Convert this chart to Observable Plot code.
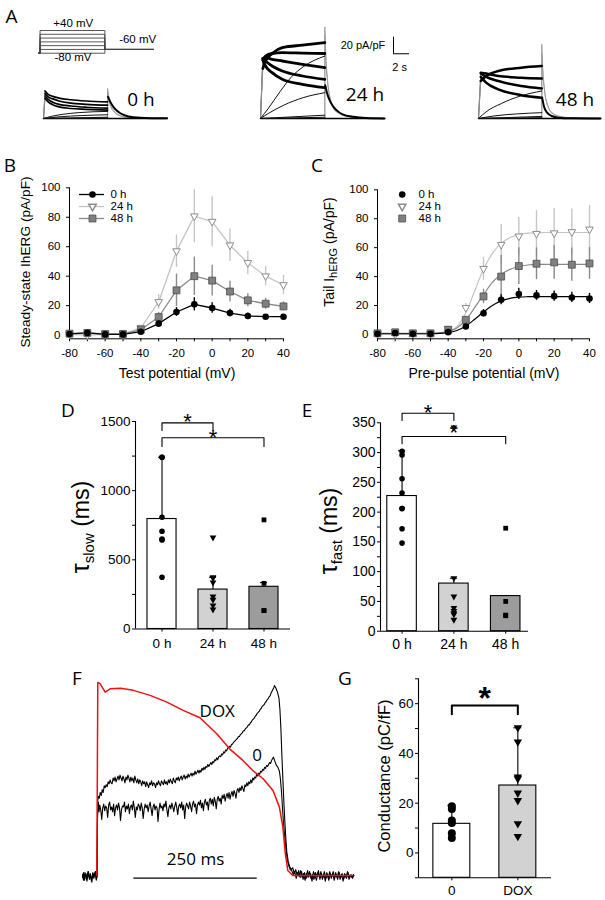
<!DOCTYPE html>
<html><head><meta charset="utf-8">
<script src="https://cdn.jsdelivr.net/npm/d3@7"></script>
<script src="https://cdn.jsdelivr.net/npm/@observablehq/plot@0.6"></script>
<style>
body{margin:0;background:#fff;}
#fig{position:relative;width:605px;height:900px;overflow:hidden;font-family:"Liberation Sans",Arial,sans-serif;color:#000;background:#fff;}
.lbl{position:absolute;white-space:nowrap;transform:translate(-50%,-50%);line-height:1;}
.rot{position:absolute;white-space:nowrap;transform:translate(-50%,-50%) rotate(-90deg);line-height:1;}
.letter{font-family:"Open Sans",sans-serif;font-size:19px;}
.cal{font-family:"Open Sans",sans-serif;}
</style></head><body><div id="fig"></div>
<script>
// ---------------- DATA ----------------
// Panel A: voltage protocol (mV) and time points (s)
const protocolSteps = [-80, -60, -40, -20, 0, 20, 40];
const protocolHold = -80, protocolTail = -60;
const protocolTimes = [-0.2, 0, 8.4, 14.7];
// Panel A current traces [t (s), I (pA/pF)]
const tr0hThick = [
  [[0.2,33],[0.6,29],[1.2,26.5],[2,24.5],[3.5,22.5],[5.5,21],[8.3,20]],
  [[0.2,30],[0.6,26],[1.2,23.5],[2,21],[3.5,18.5],[5.5,17],[8.3,16]],
  [[0.2,27],[0.6,23],[1.2,19.5],[2,17],[3.5,15],[5.5,13.5],[8.3,12.5]],
  [[0.2,24],[0.6,20],[1.2,16.5],[2,14],[3.5,12],[5.5,11],[8.3,10]]
];
const tr0hThin = [
  [[0,0],[1,2.5],[2.5,5],[4.5,7],[8.3,8.5]],
  [[0,0],[2,2],[5,3.5],[8.3,4.5]],
  [[0,0],[8.3,1.5]],
  [[0,0],[8.3,0.5]]
];
const tail0h = [
  [[8.3,0],[8.3,36],[8.5,24],[8.8,14],[9.3,7],[10,3],[11,1],[12.5,0.3],[16,0]],
  [[8.3,0],[8.3,31],[8.5,19],[8.9,10],[9.5,4.5],[10.5,1.5],[12,0.4],[16,0]]
];
const tail0hBlack = [[8.35,26],[8.7,19],[9.2,12],[10,6],[11,2.5],[12.5,1],[16,0.2]];

const tr24hThick = [
  [[0.3,60],[0.65,69],[1.5,78],[2.8,85],[5.4,88],[8.3,91]],
  [[0.3,70],[0.65,75],[1.5,78],[2.8,79],[5.4,78.5],[8.3,78]],
  [[0.3,72],[0.65,73],[1.5,71],[2.8,69],[5.4,65],[8.3,61]],
  [[0.3,72],[0.65,69],[1.5,63],[2.8,57],[5.4,51],[8.3,47]],
  [[0.3,70],[0.65,63],[1.5,55],[2.8,47],[5.4,41],[8.3,37]]
];
const tr24hThin = [
  [[0,0],[1,12],[2.5,32],[4,50],[5.5,62],[8.3,75]],
  [[0,0],[1,6],[3,16],[5.5,25],[8.3,31]],
  [[0,0],[8.3,4]],
  [[0,0],[8.3,1.5]]
];
const tail24h = [
  [[8.3,0],[8.3,110],[8.45,70],[8.7,40],[9,22],[9.5,10],[10.5,4],[12,1],[16,0]],
  [[8.3,0],[8.3,100],[8.5,58],[8.8,32],[9.2,17],[9.8,8],[11,3],[13,0.8],[16,0]]
];
const tail24hBlack = [[8.35,40],[8.6,30],[9.07,19],[9.8,10],[10.6,5],[12,2],[13.6,0.5],[16,0]];

const tr48hThick = [
  [[0.3,45],[1,51],[2.6,57],[5.6,61],[8.3,63]],
  [[0.3,55],[1,54],[2.6,51],[5.6,49],[8.3,48]],
  [[0.3,54],[1,50],[2.6,45],[5.6,39],[8.3,36]],
  [[0.3,50],[1,43],[2.6,35],[5.6,28],[8.3,25]]
];
const tr48hThin = [
  [[0,0],[1,8],[3,18],[5.5,27],[8.3,33]],
  [[0,0],[2,3],[5,5.5],[8.3,7]],
  [[0,0],[8.3,2.5]],
  [[0,0],[8.3,1]]
];
const tail48h = [
  [[8.3,0],[8.3,89],[8.45,55],[8.7,30],[9,16],[9.5,7],[10.5,2.5],[12,0.8],[16,0]],
  [[8.3,0],[8.3,78],[8.5,45],[8.8,24],[9.3,10],[10,4],[11.5,1],[16,0]]
];
const tail48hBlack = [[8.35,25],[8.6,14],[9,7],[9.6,3],[10.5,1],[12,0.3],[16,0]];
const traceBaseline = [[0,0],[16,0]];

// Panels B & C: potentials (mV)
const potentials = [-80,-70,-60,-50,-40,-30,-20,-10,0,10,20,30,40];
const seriesNames = ["0 h", "24 h", "48 h"];
// B steady-state IhERG (pA/pF)
const ss0h  = [0.8,1.5,0.5,0.5,2.3,7.8,15.7,20.9,18.4,15,13,12.5,12.5];
const ss0hE = [0,0,0,0,0,1.5,3,4.5,3.5,2.5,2,1.5,1.5];
const ss24h  = [0.5,0,0.5,0.5,5,22.5,57,80.7,77,61,49,40,34];
const ss24hE = [0,0,0,0,1,5,11,18,17,11,8,6.7,6.6];
const ss48h  = [1,1.5,0.8,0.8,3.7,12.3,30.4,40,37,29.6,23.6,21.3,19.5];
const ss48hE = [0,0,0,0,0.8,3,11,13,10.4,7,4.4,3.7,3];
// C tail IhERG (pA/pF)
const tl0h  = [0.5,1,0.5,0.5,1.6,5.5,14.7,24,28,27,26.5,25.6,24.9];
const tl0hE = [0,0,0,0,0,1.5,2.5,3.5,3.9,3.4,3.5,3.5,3.5];
const tl24h  = [0.5,0,0.5,0.5,4,18.4,45.4,62,67.8,69.6,70,70.8,72.6];
const tl24hE = [0,0,0,0,1,3,8,14,13,16,17,16,16.5];
const tl48h  = [0.8,1.5,0.8,0.8,3.2,10.1,26.3,40,47.3,48.9,49.8,48.2,49.1];
const tl48hE = [0,0,0,0,0.8,2,5,14.6,12.7,11,11.7,11.5,11];
// C fitted curves
const fitX = [-80,-75,-70,-65,-60,-55,-50,-45,-40,-35,-30,-25,-20,-15,-10,-5,0,5,10,15,20,25,30,35,40];
const fit0h  = [0.5,0.5,0.5,0.5,0.5,0.5,0.5,0.7,1.3,2.7,5.8,10.5,15.5,20,23.2,25,25.8,26.1,26.2,26.2,26.2,26.2,26.2,26.2,26.2];
const fit24h = [0.3,0.3,0.3,0.3,0.3,0.4,0.5,0.9,2,5.5,15,30,45,56,63,67,69,70,70.3,70.5,70.5,70.5,70.5,70.5,70.5];
const fit48h = [0.8,0.8,0.8,0.8,0.8,0.8,0.9,1.2,2.2,4.5,10,18.5,27.5,36,41.5,45,47,48,48.4,48.5,48.5,48.5,48.5,48.5,48.5];

// D tau slow (ms)
const groupsDE = ["0 h", "24 h", "48 h"];
const dMean = [795, 285, 305];
const dSD = [447, 89, 30];
const dPts0h = [1242, 1242, 808, 707, 651, 644, 374];
const dPts24h = [660, 374, 368, 335, 234, 210, 170, 140];
const dPts48h = [789, 330, 133, 133];
const dBrackets = [{from:0, to:1, top:1490, foot:1435, star:1538}, {from:0, to:2, top:1382, foot:1319, star:1423}];
// E tau fast (ms)
const eMean = [227, 80, 59];
const eSD = [76, 9, 0];
const ePts0h = [302, 296, 256, 232, 206, 206, 172, 148];
const ePts24h = [342, 89, 58, 39, 34, 30, 28, 19];
const ePts48h = [173, 50, 26, 27];
const eBrackets = [{from:0, to:1, top:366, foot:354, star:377}, {from:0, to:2, top:327, foot:315, star:343}];
// G conductance (pC/fF)
const groupsG = ["0", "DOX"];
const gMean = [11.7, 27.1];
const gSD = [7.5, 23.2];
const gPts0 = [18.8, 17.7, 13, 12, 7.9, 6];
const gPtsDOX = [50.3, 44.6, 30.5, 29.8, 24, 21, 11.7, 6.6];
const gBracket = [{from:0, to:1, top:59.3, foot:55.7, star:65.4}];

// F action potential (red) and current traces (black) [t (ms), normalized]
const apRed = [[29,0],[31,100],[36,99.3],[46,95],[56,96.7],[77,97],[103,95.9],[137,93.3],[171,89.8],[204,85.5],[238,81.7],[272,73.4],[298,65.6],[325,59.6],[345,54.4],[366,50.1],[386,44],[399,35.4],[406,25],[411,11.2],[416,2.6],[426,0],[547,0]];
const curDOX = [[0,0.5],[2,-2.5],[5,1.5],[7,-0.5],[9,-3],[12,2],[14,-1],[16,0.5],[19,-3.5],[21,1],[23,-1.5],[26,2],[28,-2.5],[29.5,0],[30.5,38],[32,41],[34,40],[36,43],[38,41.5],[40,44.5],[42,43],[44,46.5],[46,45.5],[48,47],[50,46],[52,48.5],[54,47.5],[56,49.5],[58,48],[60,47.5],[62,50.5],[64,49],[66,51],[68,48.5],[70,50],[72,51.5],[74,49.5],[76,52],[78,50.5],[80,49],[82,51.5],[84,50],[86,48],[88,51],[90,49.5],[92,52],[94,50.5],[96,48.5],[98,51],[100,49],[102,50.5],[104,48],[106,51.5],[108,49.5],[110,48],[112,50],[114,47.5],[116,49.5],[118,48.5],[120,46.5],[122,49],[124,47.5],[126,48.5],[128,46],[130,48.5],[132,47],[134,45.5],[136,48],[138,47],[140,49],[142,46.5],[144,48],[146,47.5],[148,45.5],[150,48],[152,47],[154,49],[156,47.5],[158,46.5],[160,49],[162,48],[164,47],[166,49.5],[168,47.5],[170,48.5],[172,47],[174,49.5],[176,48],[178,50],[180,48.5],[182,47.5],[184,50.5],[186,49],[188,48],[190,50.5],[192,49.5],[194,51],[196,49],[198,50.5],[200,51.5],[202,49.5],[204,51],[206,52],[208,50],[210,51.5],[212,50.5],[214,52.5],[216,51],[218,52],[220,53],[222,51.5],[224,53],[226,52],[228,54],[230,52.5],[232,53.5],[234,54.5],[236,53],[238,54.5],[240,53.5],[242,55.5],[244,54.5],[246,56],[248,55],[250,56.5],[252,56],[254,57.5],[256,56.5],[258,57.5],[260,58.5],[262,57.5],[264,59],[266,58.5],[268,60],[270,59.5],[272,61],[274,60],[276,61.5],[278,62],[280,61.5],[282,63],[284,62.5],[286,64],[288,63.5],[290,65],[292,64.5],[294,66],[296,66],[298,67],[300,66.5],[302,68],[304,68],[306,69],[308,69.5],[310,70],[312,70.5],[314,71],[316,72],[318,72],[320,73],[322,73.5],[324,74],[326,75],[328,75],[330,76],[332,76.5],[334,77],[336,78],[338,78],[340,79],[342,79.5],[344,80.5],[346,81],[348,81.5],[350,82.5],[352,83],[354,84],[356,84.5],[358,85],[360,86],[362,86.5],[364,87.5],[366,88],[368,88.5],[370,89.5],[372,90],[374,91],[376,91.5],[378,92.5],[380,93],[382,94.5],[384,95.5],[386,96.5],[388,97.5],[389,98.4],[392,97],[395,95],[398,92],[400,86],[402,76],[404,62],[406,50],[408,38],[410,28],[412,19],[414,12],[417,7],[420,4.5],[423,3],[426,4],[429,1],[432,3],[435,0],[438,2.5],[441,-1],[444,2],[447,-2],[450,1.5],[453,-1.5],[456,2.5],[459,-0.5],[462,1],[465,-3],[468,2],[471,0],[474,-2.5],[477,1.5],[480,-1],[483,2],[486,-2],[489,0.5],[492,-3],[495,1.5],[498,-1],[501,2],[504,-1.5],[507,1],[510,-2.5],[513,1.5],[516,-1],[519,2],[522,-2],[525,0.5],[528,-3],[531,1],[534,-1],[537,2],[540,-2],[543,0],[546,-1],[549,0.5]];
const cur0 = [[0,-1],[2,1.5],[4,-2.5],[7,1],[9,-1.5],[11,2],[14,-2],[16,1],[18,-3],[21,1.5],[23,-0.5],[26,2],[28,-2],[29.5,-0.5],[30.5,30],[32,38],[33.5,33],[35,36.5],[37,34],[39,29],[41,35],[43,37],[45,33.5],[47,36],[49,35],[51,30],[53,36.5],[55,38],[57,34],[59,35.5],[61,33],[63,37],[65,31],[67,35],[69,36.5],[71,34],[73,37.5],[75,35],[77,28.5],[79,34],[81,36],[83,35.5],[85,38],[87,33],[89,36],[91,34.5],[93,37],[95,32],[97,35.5],[99,36.5],[101,34],[103,38.5],[105,35],[107,30],[109,35.5],[111,34],[113,37],[115,36],[117,33.5],[119,37.5],[121,35],[123,29.5],[125,34.5],[127,37],[129,35],[131,36.5],[133,33],[135,36],[137,38],[139,34.5],[141,31],[143,35.5],[145,37],[147,34],[149,36],[151,35],[153,28],[155,34],[157,37.5],[159,35],[161,36],[163,33.5],[165,37],[167,35.5],[169,38.5],[171,34],[173,30.5],[175,35],[177,36.5],[179,34.5],[181,37.5],[183,35.5],[185,33],[187,36],[189,38],[191,35],[193,31.5],[195,36],[197,37],[199,35],[201,38],[203,34],[205,36.5],[207,29.5],[209,35.5],[211,37.5],[213,36],[215,34.5],[217,38],[219,36],[221,33],[223,37],[225,38.5],[227,35.5],[229,37],[231,32],[233,36.5],[235,38],[237,36.5],[239,39],[241,35],[243,37.5],[245,33.5],[247,38],[249,39.5],[251,36.5],[253,38],[255,34],[257,39],[259,40],[261,37],[263,39.5],[265,36],[267,40.5],[269,38.5],[271,34.5],[273,39.5],[275,41],[277,38.5],[279,40],[281,37],[283,41.5],[285,40],[287,42],[289,38.5],[291,41],[293,42.5],[295,40],[297,43],[299,39.5],[301,42],[303,43.5],[305,41],[307,44],[309,42.5],[311,40],[313,44],[315,45],[317,43],[319,45.5],[321,44],[323,46.5],[325,45],[327,43.5],[329,47],[331,46],[333,48],[335,46.5],[337,48.5],[339,47.5],[341,49.5],[343,48],[345,50.5],[347,49.5],[349,51],[351,50.5],[353,52.5],[355,51.5],[357,53],[359,52.5],[361,54],[363,53.5],[365,55],[367,54.5],[369,56],[371,55.5],[373,57],[375,56.5],[377,57.5],[379,58.5],[381,58],[383,59.5],[385,60.5],[387,61.3],[390,59],[393,57],[396,56],[399,54],[401,50],[403,44],[405,36],[407,28],[409,22],[411,17],[413,12],[415,8],[418,5],[421,3],[424,2.5],[427,0.5],[430,2],[433,-1.5],[436,1.5],[439,-0.5],[442,2.5],[445,-1],[448,1],[451,-2.5],[454,1],[457,-1],[460,2],[463,-1.5],[466,0.5],[469,-2],[472,1.5],[475,-0.5],[478,2.5],[481,-2],[484,1],[487,-1],[490,2],[493,-1.5],[496,0.5],[499,-2.5],[502,1],[505,-0.5],[508,2],[511,-1],[514,0.5],[517,-2],[520,1.5],[523,-1],[526,1],[529,-2],[532,0.5],[535,-1.5],[538,1.5],[541,-1],[544,0.5],[547,-1.5],[550,0]];
const fScaleBar = [{t0:104, len:250, v:-1.4, label:"250 ms", lt:229, lv:8.1}];
const fLabels = [{t:273, v:85.1, text:"DOX"}, {t:354, v:62.2, text:"0"}];

// ---------------- HELPERS ----------------
const fig = document.getElementById("fig");
const FONT = '"Liberation Sans", Arial, sans-serif';
function addPlot(left, top, opts) {
  const style = Object.assign({background:"transparent", overflow:"visible", fontFamily: FONT}, opts.style || {});
  const svg = Plot.plot(Object.assign({}, opts, {style}));
  const d = document.createElement("div");
  d.style.cssText = `position:absolute;left:${left}px;top:${top}px;width:${opts.width}px;height:${opts.height}px;`;
  d.appendChild(svg);
  fig.appendChild(d);
}
function label(html, x, y, cls, css) {
  const d = document.createElement("div");
  d.className = cls || "lbl";
  d.innerHTML = html;
  d.style.left = x + "px"; d.style.top = y + "px";
  if (css) d.style.cssText += css;
  fig.appendChild(d);
}
const triDown = {draw(ctx, size) {
  const r = Math.sqrt(size / Math.PI);
  ctx.moveTo(-r * 1.05, -r * 0.65); ctx.lineTo(r * 1.05, -r * 0.65); ctx.lineTo(0, r * 1.2); ctx.closePath();
}};
const rowsOf = (xs, ys, es) => xs.map((x, i) => ({x, y: ys[i], e: es ? es[i] : 0}));
const ptsOf = (arr, i) => arr.map(v => ({i, v}));

// ---------------- PANEL A ----------------
const protocolLines = protocolSteps.map(V => [
  [protocolTimes[0], protocolHold], [protocolTimes[1], protocolHold], [protocolTimes[1], V],
  [protocolTimes[2], V], [protocolTimes[2], protocolTail], [protocolTimes[3], protocolTail]]);
addPlot(38.3, 25, {
  width: 115, height: 30, margin: 0,
  x: {domain: [-0.2, 14.7], axis: null}, y: {domain: [-92, 66.4], axis: null},
  marks: protocolLines.map(l => Plot.line(l, {x: d => d[0], y: d => d[1], stroke: "#444", strokeWidth: 0.9}))
});

function traceFamily(left, width, thick, thin, tails, blackTail, thickW) {
  const lineOf = (pts, o) => Plot.line(pts, Object.assign({x: d => d[0], y: d => d[1], curve: "monotone-x"}, o));
  addPlot(left, 17.5, {
    width, height: 100, margin: 0,
    x: {domain: [0, 16], axis: null}, y: {domain: [0, 120], axis: null},
    marks: [
      ...tails.map(t => lineOf(t, {stroke: "#9a9a9a", strokeWidth: 0.9, curve: "linear"})),
      Plot.link(thick, {x1: d => 0, y1: d => 0, x2: d => d[0][0], y2: d => d[0][1], stroke: "#8a8a8a", strokeWidth: 0.9}),
      lineOf(traceBaseline, {stroke: "#000", strokeWidth: 1.6, curve: "linear"}),
      ...thin.map(t => lineOf(t, {stroke: "#111", strokeWidth: 1})),
      lineOf(blackTail, {stroke: "#000", strokeWidth: 2}),
      ...thick.map(t => lineOf(t, {stroke: "#000", strokeWidth: thickW}))
    ]
  });
}
traceFamily(43.2, 123.6, tr0hThick, tr0hThin, tail0h, tail0hBlack, 1.7);
traceFamily(260, 124, tr24hThick, tr24hThin, tail24h, tail24hBlack, 2.8);
traceFamily(478, 122, tr48hThick, tr48hThin, tail48h, tail48hBlack, 2.5);
// scale bar for A (20 pA/pF, 2 s)
addPlot(393, 35, {
  width: 16, height: 20, margin: 0,
  x: {domain: [0, 2], axis: null}, y: {domain: [-2.1, 22], axis: null},
  marks: [Plot.ruleX([0], {y1: 0, y2: 20, stroke: "#000", strokeWidth: 1}), Plot.ruleY([0], {x1: 0, x2: 2, stroke: "#000", strokeWidth: 1})]
});

label("A", 11.6, 16, "lbl letter");
label("+40 mV", 73.3, 24.3, "lbl", "font-size:11.5px;");
label("-60 mV", 137.7, 40, "lbl", "font-size:11.5px;");
label("-80 mV", 73, 58, "lbl", "font-size:11.5px;");
label("0 h", 141, 99, "lbl cal", "font-size:19px;");
label("24 h", 365, 94, "lbl cal", "font-size:19px;");
label("48 h", 575, 99, "lbl cal", "font-size:19px;");
label("20 pA/pF", 363, 45, "lbl", "font-size:11px;");
label("2 s", 399.6, 67, "lbl", "font-size:11px;");

// ---------------- PANEL B ----------------
const fmt = d => String(d);
const bR0 = rowsOf(potentials, ss0h, ss0hE), bR24 = rowsOf(potentials, ss24h, ss24hE), bR48 = rowsOf(potentials, ss48h, ss48hE);
const errMarks = (rows, stroke) => Plot.ruleX(rows.filter(d => d.e > 0), {x: "x", y1: d => d.y - d.e, y2: d => d.y + d.e, stroke, strokeWidth: 1.4});
const xTicksIV = [-80,-70,-60,-50,-40,-30,-20,-10,0,10,20,30,40];
const ivAxisX = {domain: [-80, 40], ticks: xTicksIV, tickFormat: d => d % 20 === 0 ? fmt(d) : "", tickSize: 3, tickPadding: 7.5, label: null};
const ivAxisY = {domain: [-2.5, 100], ticks: [0,20,40,60,80,100], tickFormat: fmt, tickSize: 3, tickPadding: 6, label: null};
addPlot(0, 150, {
  width: 300, height: 240, marginLeft: 69, marginRight: 17, marginTop: 37.3, marginBottom: 51.7,
  x: ivAxisX, y: ivAxisY, style: {fontSize: "11.5px"},
  marks: [
    Plot.ruleX([-80], {stroke: "#000"}), Plot.ruleY([-2.5], {stroke: "#000"}),
    errMarks(bR24, "#c6c6c6"), errMarks(bR48, "#8a8a8a"), errMarks(bR0, "#000"),
    Plot.line(bR24, {x: "x", y: "y", stroke: "#c4c4c4", strokeWidth: 1.3}),
    Plot.line(bR48, {x: "x", y: "y", stroke: "#8a8a8a", strokeWidth: 1.3}),
    Plot.line(bR0, {x: "x", y: "y", stroke: "#000", strokeWidth: 1.3}),
    Plot.dot(bR24, {x: "x", y: "y", symbol: triDown, r: 3.6, fill: "#fff", stroke: "#8c8c8c", strokeWidth: 1}),
    Plot.dot(bR48, {x: "x", y: "y", symbol: "square", r: 3.9, fill: "#808080", stroke: "#4d4d4d", strokeWidth: 0.8}),
    Plot.dot(bR0, {x: "x", y: "y", r: 3.3, fill: "#000"})
  ]
});
// legend B
addPlot(75, 186, {
  width: 60, height: 40, marginTop: 7.7, marginBottom: 8.3, marginLeft: 4, marginRight: 31,
  x: {domain: [0, 1], axis: null}, y: {type: "point", domain: seriesNames, axis: null, padding: 0},
  style: {fontSize: "11.5px"},
  marks: [
    Plot.ruleY([seriesNames[0]], {x1: 0, x2: 1, stroke: "#000", strokeWidth: 1.3}),
    Plot.ruleY([seriesNames[1]], {x1: 0, x2: 1, stroke: "#c4c4c4", strokeWidth: 1.3}),
    Plot.ruleY([seriesNames[2]], {x1: 0, x2: 1, stroke: "#8a8a8a", strokeWidth: 1.3}),
    Plot.dot([seriesNames[0]], {x: d => 0.52, y: d => d, r: 3.3, fill: "#000"}),
    Plot.dot([seriesNames[1]], {x: d => 0.52, y: d => d, symbol: triDown, r: 3.6, fill: "#fff", stroke: "#8c8c8c"}),
    Plot.dot([seriesNames[2]], {x: d => 0.52, y: d => d, symbol: "square", r: 3.9, fill: "#808080", stroke: "#4d4d4d", strokeWidth: 0.8}),
    Plot.text(seriesNames, {x: d => 1, y: d => d, text: d => d, dx: 6, textAnchor: "start", fontSize: 11.5})
  ]
});
label("B", 10, 165, "lbl letter");
label("Test potential (mV)", 177, 373.3, "lbl", "font-size:14px;");
label("Steady-state IhERG (pA/pF)", 26, 262, "rot", "font-size:13.7px;");

// ---------------- PANEL C ----------------
const cR0 = rowsOf(potentials, tl0h, tl0hE), cR24 = rowsOf(potentials, tl24h, tl24hE), cR48 = rowsOf(potentials, tl48h, tl48hE);
const fR0 = rowsOf(fitX, fit0h), fR24 = rowsOf(fitX, fit24h), fR48 = rowsOf(fitX, fit48h);
addPlot(300, 150, {
  width: 305, height: 240, marginLeft: 77, marginRight: 16, marginTop: 39.3, marginBottom: 51.7,
  x: ivAxisX, y: Object.assign({}, ivAxisY, {domain: [-3, 100]}), style: {fontSize: "11.5px"},
  marks: [
    Plot.ruleX([-80], {stroke: "#000"}), Plot.ruleY([-3], {stroke: "#000"}),
    errMarks(cR24, "#c6c6c6"), errMarks(cR48, "#8a8a8a"), errMarks(cR0, "#000"),
    Plot.line(fR24, {x: "x", y: "y", stroke: "#c4c4c4", strokeWidth: 1.2, curve: "monotone-x"}),
    Plot.line(fR48, {x: "x", y: "y", stroke: "#8a8a8a", strokeWidth: 1.2, curve: "monotone-x"}),
    Plot.line(fR0, {x: "x", y: "y", stroke: "#000", strokeWidth: 1.2, curve: "monotone-x"}),
    Plot.dot(cR24, {x: "x", y: "y", symbol: triDown, r: 3.6, fill: "#fff", stroke: "#8c8c8c", strokeWidth: 1}),
    Plot.dot(cR48, {x: "x", y: "y", symbol: "square", r: 3.9, fill: "#808080", stroke: "#4d4d4d", strokeWidth: 0.8}),
    Plot.dot(cR0, {x: "x", y: "y", r: 3.3, fill: "#000"})
  ]
});
addPlot(395, 186, {
  width: 50, height: 40, marginTop: 7.3, marginBottom: 7.7, marginLeft: 6.7, marginRight: 20,
  x: {domain: [0, 1], axis: null}, y: {type: "point", domain: seriesNames, axis: null, padding: 0},
  style: {fontSize: "11.5px"},
  marks: [
    Plot.dot([seriesNames[0]], {x: d => 0, y: d => d, r: 3.3, fill: "#000"}),
    Plot.dot([seriesNames[1]], {x: d => 0, y: d => d, symbol: triDown, r: 3.6, fill: "#fff", stroke: "#8c8c8c"}),
    Plot.dot([seriesNames[2]], {x: d => 0, y: d => d, symbol: "square", r: 3.9, fill: "#808080", stroke: "#4d4d4d", strokeWidth: 0.8}),
    Plot.text(seriesNames, {x: d => 0, y: d => d, text: d => d, dx: 16.3, textAnchor: "start", fontSize: 11.5})
  ]
});
label("C", 317, 165, "lbl letter");
label("Pre-pulse potential (mV)", 484, 373.3, "lbl", "font-size:14px;");
label('Tail I<sub style="font-size:11px;vertical-align:-3px">hERG</sub> (pA/pF)', 330, 252, "rot", "font-size:14px;");

// ---------------- PANEL D/E/G (bars) ----------------
function barPanel(left, top, cfg) {
  const n = cfg.means.length;
  const bars = cfg.means.map((m, i) => ({i, m, sd: cfg.sds[i]}));
  const pts = cfg.points.map((arr, i) => ptsOf(arr, i));
  const bw = cfg.barHalf, cap = cfg.capHalf, base = cfg.yDomain[0];
  const marks = [
    Plot.rectY(bars, {x1: d => d.i - bw, x2: d => d.i + bw, y1: d => base, y2: "m", fill: (d) => cfg.fills[d.i], stroke: "#000", strokeWidth: 1.1}),
    Plot.ruleX(bars.filter(d => d.sd > 0), {x: "i", y1: "m", y2: d => d.m + d.sd, stroke: "#000", strokeWidth: 1.1}),
    Plot.ruleY(bars.filter(d => d.sd > 0), {y: d => d.m + d.sd, x1: d => d.i - cap, x2: d => d.i + cap, stroke: "#000", strokeWidth: 1.1}),
    Plot.ruleX([cfg.xDomain[0]], {stroke: "#000", strokeWidth: 1.1}),
    Plot.ruleY([base], {stroke: "#000", strokeWidth: 1.1}),
    Plot.dot(pts[0], {x: "i", y: "v", r: cfg.r[0], fill: "#000"}),
    Plot.dot(pts[1], {x: "i", y: "v", r: cfg.r[1], fill: "#000", symbol: triDown}),
  ];
  if (pts[2]) marks.push(Plot.dot(pts[2], {x: "i", y: "v", r: cfg.r[2], fill: "#000", symbol: "square"}));
  for (const b of cfg.brackets) {
    marks.push(Plot.line([[b.from, b.foot], [b.from, b.top], [b.to, b.top], [b.to, b.foot]], {x: d => d[0], y: d => d[1], stroke: "#000", strokeWidth: cfg.bracketW}));
    marks.push(Plot.text([b], {x: d => (d.from + d.to) / 2, y: "star", text: d => "*", fontSize: cfg.starSize, fontWeight: cfg.starWeight, dy: cfg.starDy}));
  }
  addPlot(left, top, {
    width: cfg.width, height: cfg.height, marginLeft: cfg.ml, marginRight: cfg.mr, marginTop: cfg.mt, marginBottom: cfg.mb,
    x: {domain: cfg.xDomain, ticks: d3.range(n), tickFormat: i => cfg.groups[i], tickSize: 3, tickPadding: cfg.xPad, label: null},
    y: {domain: cfg.yDomain, ticks: cfg.yTicks, tickFormat: cfg.yFmt, tickSize: 3, tickPadding: 2, label: null},
    style: {fontSize: cfg.font},
    marks
  });
}
barPanel(60, 400, {
  width: 240, height: 260, ml: 75, mr: 10, mt: 21, mb: 31.5,
  xDomain: [-0.52, 2.52], yDomain: [0, 1500], groups: groupsDE,
  yTicks: [0,250,500,750,1000,1250,1500], yFmt: d => d % 500 === 0 ? fmt(d) : "",
  means: dMean, sds: dSD, points: [dPts0h, dPts24h, dPts48h], fills: ["#ffffff", "#d2d2d2", "#9c9c9c"],
  barHalf: 0.285, capHalf: 0.07, r: [2.8, 3.2, 2.7], brackets: dBrackets, bracketW: 1.1,
  starSize: 22, starWeight: "normal", starDy: 6, font: "13.5px", xPad: 6.8
});
barPanel(300, 400, {
  width: 305, height: 260, ml: 80, mr: 77, mt: 22.3, mb: 29.3,
  xDomain: [-0.416, 2.44], yDomain: [0, 350], groups: groupsDE,
  yTicks: [0,25,50,75,100,125,150,175,200,225,250,275,300,325,350], yFmt: d => d % 50 === 0 ? fmt(d) : "",
  means: eMean, sds: eSD, points: [ePts0h, ePts24h, ePts48h], fills: ["#ffffff", "#d2d2d2", "#9c9c9c"],
  barHalf: 0.285, capHalf: 0.07, r: [2.8, 3.2, 2.7], brackets: eBrackets, bracketW: 1.1,
  starSize: 22, starWeight: "normal", starDy: 6, font: "14px", xPad: 4.7
});
barPanel(380, 660, {
  width: 225, height: 240, ml: 38, mr: 54, mt: 18.3, mb: 22.7,
  xDomain: [-0.505, 1.51], yDomain: [-10, 70], groups: groupsG,
  yTicks: [-10,0,10,20,30,40,50,60,70], yFmt: d => d >= 0 && d % 20 === 0 ? fmt(d) : "",
  means: gMean, sds: gSD, points: [gPts0, gPtsDOX], fills: ["#ffffff", "#d2d2d2"],
  barHalf: 0.28, capHalf: 0.06, r: [4, 4], brackets: gBracket, bracketW: 2,
  starSize: 32, starWeight: "bold", starDy: 9, font: "13.5px", xPad: 4.3
});
label("D", 68, 410, "lbl letter");
label("E", 307, 410, "lbl letter");
label("G", 345, 678, "lbl letter");
label('<span style="font-size:25px">τ</span><sub style="font-size:15px;vertical-align:-5px">slow</sub><span style="font-size:23px"> (ms)</span>', 82, 527, "rot");
label('<span style="font-size:25px">τ</span><sub style="font-size:15px;vertical-align:-5px">fast</sub><span style="font-size:23px"> (ms)</span>', 330, 531, "rot");
label("Conductance (pC/fF)", 384, 776, "rot", "font-size:16.5px;");

// ---------------- PANEL F ----------------
addPlot(82, 675, {
  width: 275, height: 210, margin: 0,
  x: {domain: [0, 557.2], axis: null}, y: {domain: [-5.2, 103.6], axis: null},
  marks: [
    Plot.line(cur0, {x: d => d[0], y: d => d[1], stroke: "#000", strokeWidth: 1.1}),
    Plot.line(curDOX, {x: d => d[0], y: d => d[1], stroke: "#000", strokeWidth: 1.1}),
    Plot.line(apRed, {x: d => d[0], y: d => d[1], stroke: "#f01010", strokeWidth: 1.5}),
    Plot.ruleY(fScaleBar, {y: "v", x1: "t0", x2: d => d.t0 + d.len, stroke: "#000", strokeWidth: 1.2}),
    Plot.text(fScaleBar, {x: "lt", y: "lv", text: "label", fontSize: 17, fontFamily: '"Open Sans", sans-serif'}),
    Plot.text(fLabels, {x: "t", y: "v", text: "text", fontSize: 17, fontFamily: '"Open Sans", sans-serif'})
  ]
});
label("F", 77, 678, "lbl letter");
</script></body></html>
